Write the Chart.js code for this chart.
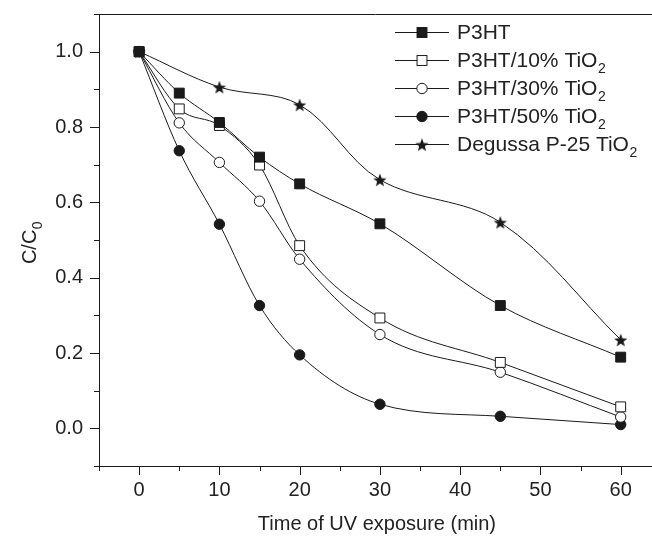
<!DOCTYPE html>
<html>
<head>
<meta charset="utf-8">
<script src="https://cdn.jsdelivr.net/npm/chart.js@4/dist/chart.umd.min.js"></script>
<style>
  html, body { margin: 0; padding: 0; background: #fff; }
  canvas { display: block; }
</style>
</head>
<body>
<canvas id="chart" width="652" height="537"></canvas>
<script>
// data
var times = [0, 5, 10, 15, 20, 30, 45, 60];
var timesDegussa = [0, 10, 20, 30, 45, 60];
var p3ht = [1.0, 0.89, 0.812, 0.72, 0.649, 0.543, 0.326, 0.189];
var p3ht10 = [1.0, 0.848, 0.804, 0.699, 0.485, 0.293, 0.175, 0.057];
var p3ht30 = [1.0, 0.811, 0.706, 0.603, 0.449, 0.249, 0.149, 0.030];
var p3ht50 = [1.0, 0.737, 0.542, 0.326, 0.195, 0.064, 0.032, 0.010];
var degussa = [1.0, 0.906, 0.859, 0.660, 0.547, 0.235];
var xTickLabels = [0, 10, 20, 30, 40, 50, 60];
var yTickLabels = [0.0, 0.2, 0.4, 0.6, 0.8, 1.0];
var legendNames = [['P3HT', ''], ['P3HT/10% TiO', '2'], ['P3HT/30% TiO', '2'], ['P3HT/50% TiO', '2'], ['Degussa P-25 TiO', '2']];

(function() {
  var ink = '#1a1a1a';
  var textColor = '#222';
  var family = "'Liberation Sans', Arial, sans-serif";

  // filled five-point star used as a point style
  function makeStar(r) {
    var c = document.createElement('canvas');
    var s = Math.ceil(r * 2 + 2);
    c.width = s; c.height = s;
    var g = c.getContext('2d');
    g.fillStyle = ink;
    g.beginPath();
    for (var i = 0; i < 10; i++) {
      var rad = i % 2 === 0 ? r : r * 0.42;
      var a = -Math.PI / 2 + i * Math.PI / 5;
      var px = s / 2 + rad * Math.cos(a), py = s / 2 + 0.8 + rad * Math.sin(a);
      if (i === 0) g.moveTo(px, py); else g.lineTo(px, py);
    }
    g.closePath();
    g.fill();
    return c;
  }
  var star = makeStar(7);

  function pts(xs, ys) {
    return xs.map(function(x, i) { return { x: x, y: ys[i] }; });
  }

  var markers = [
    { style: 'rect', fill: ink, r: 7 },
    { style: 'rect', fill: '#fff', r: 7 },
    { style: 'circle', fill: '#fff', r: 5.2 },
    { style: 'circle', fill: ink, r: 5.2 },
    { style: star, fill: ink, r: 7 }
  ];
  var series = [
    pts(times, p3ht), pts(times, p3ht10), pts(times, p3ht30), pts(times, p3ht50), pts(timesDegussa, degussa)
  ];

  var datasets = series.map(function(d, i) {
    var m = markers[i];
    var ds = {
      label: legendNames[i].join(''),
      data: d,
      borderColor: ink,
      borderWidth: 1,
      cubicInterpolationMode: 'monotone',
      fill: false,
      pointStyle: m.style,
      pointRadius: m.r,
      pointHoverRadius: m.r,
      pointBackgroundColor: m.fill,
      pointBorderColor: ink,
      pointBorderWidth: 1
    };
    // Degussa curve is a looser spline in the original
    if (i === 4) { ds.cubicInterpolationMode = 'default'; ds.tension = 0.35; }
    return ds;
  });

  function textWithSub(ctx, x, y, base, sub, size, align) {
    ctx.font = size + 'px ' + family;
    var w = ctx.measureText(base).width;
    var subSize = Math.round(size * 0.68);
    ctx.font = subSize + 'px ' + family;
    var ws = sub ? ctx.measureText(sub).width : 0;
    var x0 = align === 'center' ? x - (w + ws) / 2 : x;
    ctx.textAlign = 'left';
    ctx.textBaseline = 'alphabetic';
    ctx.font = size + 'px ' + family;
    ctx.fillText(base, x0, y);
    if (sub) {
      ctx.font = subSize + 'px ' + family;
      ctx.fillText(sub, x0 + w + 0.5, y + size * 0.28);
    }
  }

  function legendMarker(ctx, i, x, y) {
    var m = markers[i];
    ctx.fillStyle = m.fill;
    ctx.strokeStyle = ink;
    ctx.lineWidth = 1;
    if (m.style === 'rect') {
      var h = m.r * Math.SQRT1_2;
      ctx.fillRect(x - h, y - h, h * 2, h * 2);
      ctx.strokeRect(x - h, y - h, h * 2, h * 2);
    } else if (m.style === 'circle') {
      ctx.beginPath();
      ctx.arc(x, y, m.r, 0, Math.PI * 2);
      ctx.fill();
      ctx.stroke();
    } else {
      ctx.drawImage(m.style, x - m.style.width / 2, y - m.style.height / 2);
    }
  }

  var decor = {
    id: 'decor',
    afterDraw: function(chart) {
      var ctx = chart.ctx, a = chart.chartArea;
      var xs = chart.scales.x, ys = chart.scales.y;
      ctx.save();
      ctx.strokeStyle = ink;
      ctx.lineWidth = 1;
      // top frame line
      ctx.beginPath();
      ctx.moveTo(a.left, Math.round(a.top) + 0.5);
      ctx.lineTo(a.right, Math.round(a.top) + 0.5);
      ctx.stroke();
      // ticks: major long, minor short
      ys.ticks.forEach(function(t) {
        var py = Math.round(ys.getPixelForValue(t.value)) + 0.5;
        var len = t.label ? 9 : 5;
        ctx.beginPath();
        ctx.moveTo(a.left - len, py);
        ctx.lineTo(a.left, py);
        ctx.stroke();
      });
      xs.ticks.forEach(function(t) {
        if (t.value > 60.01) return;
        var px = Math.round(xs.getPixelForValue(t.value)) + 0.5;
        var len = t.label ? 9 : 5;
        ctx.beginPath();
        ctx.moveTo(px, a.bottom);
        ctx.lineTo(px, a.bottom + len);
        ctx.stroke();
      });

      // axis titles
      ctx.fillStyle = textColor;
      textWithSub(ctx, xs.getPixelForValue(30) - 3, 530, 'Time of UV exposure (min)', '', 20, 'center');
      ctx.save();
      ctx.translate(36, (a.top + a.bottom) / 2 + 3);
      ctx.rotate(-Math.PI / 2);
      textWithSub(ctx, 0, 0, 'C/C', '0', 20, 'center');
      ctx.restore();

      // legend
      for (var i = 0; i < legendNames.length; i++) {
        var cy = 31.5 + i * 28.1;
        ctx.strokeStyle = ink;
        ctx.beginPath();
        ctx.moveTo(395, Math.round(cy) + 0.5);
        ctx.lineTo(449, Math.round(cy) + 0.5);
        ctx.stroke();
        legendMarker(ctx, i, 422, Math.round(cy) + 0.5);
        ctx.fillStyle = textColor;
        textWithSub(ctx, 457, cy + 7.5, legendNames[i][0], legendNames[i][1], 21, 'left');
      }
      ctx.restore();
    }
  };

  new Chart(document.getElementById('chart'), {
    type: 'line',
    data: { datasets: datasets },
    plugins: [decor],
    options: {
      responsive: false,
      animation: false,
      devicePixelRatio: 1,
      layout: { autoPadding: false, padding: { top: 14, right: 0, bottom: 0, left: 0 } },
      plugins: {
        legend: { display: false },
        tooltip: { enabled: false },
        title: { display: false }
      },
      scales: {
        x: {
          type: 'linear',
          min: -5,
          max: 63.9,
          afterFit: function(s) { s.height = 71; s.paddingLeft = 0; s.paddingRight = 0; },
          afterBuildTicks: function(s) {
            var list = [];
            for (var v = -5; v <= 60; v += 5) list.push({ value: v });
            s.ticks = list;
          },
          border: { display: true, color: ink, width: 1 },
          grid: { drawOnChartArea: false, color: 'rgba(0,0,0,0)', tickLength: 9 },
          ticks: {
            autoSkip: false,
            maxRotation: 0,
            padding: 3,
            color: textColor,
            font: { family: family, size: 20 },
            callback: function(v) {
              var n = Math.round(v);
              return Math.abs(v - n) < 1e-6 && xTickLabels.indexOf(n) >= 0 ? String(n) : '';
            }
          }
        },
        y: {
          min: -0.1,
          max: 1.1,
          afterFit: function(s) { s.width = 99; s.paddingTop = 0; s.paddingBottom = 0; },
          border: { display: true, color: ink, width: 1 },
          grid: { drawOnChartArea: false, color: 'rgba(0,0,0,0)', tickLength: 9 },
          ticks: {
            stepSize: 0.1,
            autoSkip: false,
            padding: 7,
            color: textColor,
            font: { family: family, size: 20 },
            callback: function(v) {
              var n = Math.round(v * 10) / 10;
              var hit = yTickLabels.some(function(t) { return Math.abs(t - n) < 1e-6; });
              return hit && Math.abs(v - n) < 1e-6 ? n.toFixed(1) : '';
            }
          }
        }
      }
    }
  });
})();
</script>
</body>
</html>
